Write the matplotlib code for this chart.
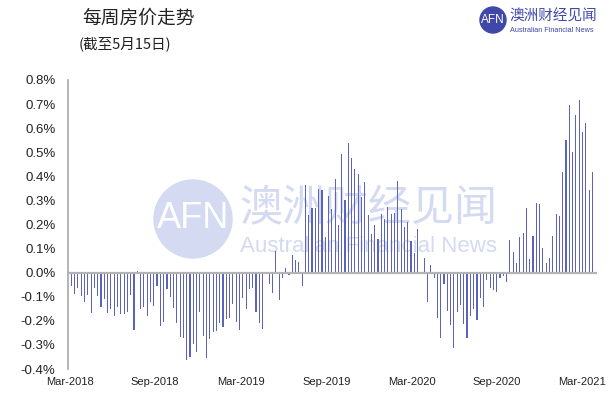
import matplotlib
matplotlib.use("Agg")
import matplotlib.pyplot as plt
from matplotlib.patches import Ellipse

plt.rcParams['font.family'] = ['Noto Sans CJK SC', 'DejaVu Sans']

# weekly change in %, from Mar-2018 to mid May-2021
weekly = [
    -0.054, -0.087, -0.065, -0.095, -0.123, -0.094, -0.169, -0.065, -0.095, -0.144,
    -0.109, -0.169, -0.152, -0.180, -0.144, -0.173, -0.173, -0.165, -0.094, -0.236,
    0.007, -0.152, -0.144, -0.180, -0.120, -0.137, -0.055, -0.223, -0.206, -0.068,
    -0.100, -0.147, -0.210, -0.267, -0.272, -0.364, -0.350, -0.297, -0.328, -0.163,
    -0.263, -0.353, -0.274, -0.246, -0.242, -0.210, -0.225, -0.194, -0.187, -0.129,
    -0.203, -0.239, -0.107, -0.152, -0.069, -0.062, -0.162, -0.207, -0.235, -0.007,
    -0.048, -0.083, 0.090, -0.115, -0.023, 0.020, -0.010, 0.073, 0.053, 0.044,
    -0.057, 0.364, 0.239, 0.270, 0.268, 0.346, 0.342, 0.148, 0.318, 0.266,
    0.391, 0.198, 0.491, 0.300, 0.537, 0.477, 0.429, 0.408, 0.314, 0.376,
    0.239, 0.162, 0.198, 0.138, 0.245, 0.221, 0.272, 0.245, 0.249, 0.380,
    0.263, 0.190, 0.212, 0.131, 0.080, 0.183, -0.007, 0.060, -0.120, 0.032,
    -0.024, -0.187, -0.270, -0.048, -0.159, -0.217, -0.311, -0.162, -0.134, -0.212,
    -0.272, -0.180, -0.151, -0.198, -0.106, -0.142, -0.032, -0.065, -0.073, -0.079,
    -0.023, -0.014, -0.037, 0.134, 0.085, 0.041, 0.148, 0.165, 0.267, 0.055,
    0.152, 0.290, 0.284, 0.101, 0.041, 0.062, 0.152, 0.242, 0.235, 0.419,
    0.549, 0.696, 0.502, 0.653, 0.716, 0.585, 0.621, 0.342, 0.419,
]
x_labels = ['Mar-2018', 'Sep-2018', 'Mar-2019', 'Sep-2019', 'Mar-2020', 'Sep-2020', 'Mar-2021']
x_label_pos = [-0.4, 25.4, 51.5, 77.3, 103.3, 129.1, 154.9]
y_ticks = [-0.4, -0.3, -0.2, -0.1, 0.0, 0.1, 0.2, 0.3, 0.4, 0.5, 0.6, 0.7, 0.8]
y_labels = ['-0.4%', '-0.3%', '-0.2%', '-0.1%', '0.0%', '0.1%', '0.2%', '0.3%',
            '0.4%', '0.5%', '0.6%', '0.7%', '0.8%']

fig = plt.figure(figsize=(6.09, 4.03), dpi=100)
ax = fig.add_axes([68/609, 1-369/403, 529/609, 289/403])
ax.patch.set_alpha(0)

weeks = list(range(len(weekly)))
ax.bar(weeks, weekly, width=0.34, color='#5c63bf', linewidth=0, zorder=2)
ax.axhline(0, color='#b4b4b4', lw=1.6, zorder=3)

ax.set_xlim(-1, 159.4)
ax.set_ylim(-0.4, 0.8)
ax.set_yticks(y_ticks)
ax.set_yticklabels(y_labels, family=['Liberation Sans', 'DejaVu Sans'], fontsize=9.5, color='#222222')
ax.set_xticks(x_label_pos)
ax.set_xticklabels(x_labels, family=['Liberation Sans Narrow', 'Liberation Sans', 'DejaVu Sans'],
                   fontsize=8, color='#222222')
ax.tick_params(axis='y', length=0, pad=9)
ax.tick_params(axis='x', length=0, pad=6)
for s in ['top', 'right', 'bottom']:
    ax.spines[s].set_visible(False)
ax.spines['left'].set_color('#a8a8a8')
ax.spines['left'].set_linewidth(1.2)

# watermark behind the bars
wm = '#d3daf1'
ax.add_patch(Ellipse((193/609, 1-219/403), 78/609, 78/403, transform=fig.transFigure,
                     color=wm, zorder=0.5, clip_on=False))
ax.text(193/609, 1-219/403, 'AFN', transform=fig.transFigure, color='white', fontsize=26,
        ha='center', va='center', family=['Liberation Sans', 'DejaVu Sans'], zorder=0.6)
ax.text(239/609, 1-208/403, '澳洲财经见闻', transform=fig.transFigure, color=wm, fontsize=31,
        ha='left', va='center', zorder=0.6)
ax.text(240/609, 1-247/403, 'Australian Financial News', transform=fig.transFigure, color=wm,
        fontsize=16, ha='left', va='center', family=['Liberation Sans', 'DejaVu Sans'], zorder=0.6)

# titles
fig.text(82/609, 1-18/403, '每周房价走势', fontsize=13.5, color='#222222', va='center', ha='left')
fig.text(79/609, 1-44/403, '(截至5月15日)', fontsize=10.5, color='#222222', va='center', ha='left')

# logo top right
logo = '#3f47a8'
fig.patches.append(Ellipse((493/609, 1-20/403), 26/609, 26/403, transform=fig.transFigure,
                           color=logo, figure=fig))
fig.text(493/609, 1-20/403, 'AFN', color='white', fontsize=8.5, ha='center', va='center',
         family=['Liberation Sans', 'DejaVu Sans'])
fig.text(509/609, 1-17/403, '澳洲财经见闻', color=logo, fontsize=10.5, ha='left', va='center')
fig.text(510/609, 1-31/403, 'Australian Financial News', color=logo, fontsize=5.2, ha='left',
         va='center', family=['Liberation Sans', 'DejaVu Sans'])

fig.savefig('out.png', dpi=100)
